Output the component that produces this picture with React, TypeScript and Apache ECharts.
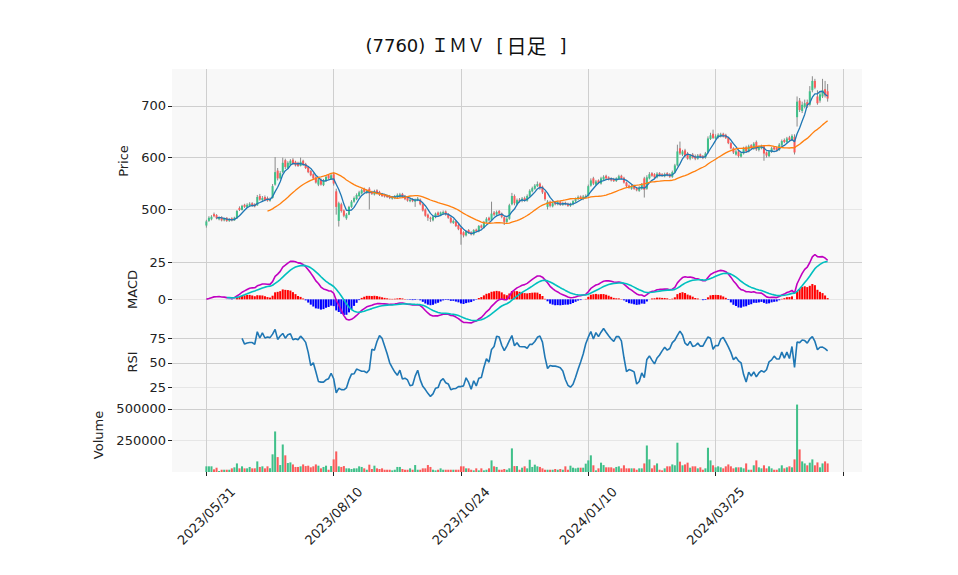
import React, { useEffect, useRef } from 'react';
import * as echarts from 'echarts';

const TITLE_MAIN = '(7760) ＩＭＶ  [';
const TITLE_KIND = '日足';
const TITLE_END = ']';
const HOLIDAYS = [
  '2023/07/17', '2023/08/11', '2023/09/18', '2023/10/09', '2023/11/03', '2023/11/23',
  '2024/01/01', '2024/01/02', '2024/01/03', '2024/01/08', '2024/02/12', '2024/02/23',
  '2024/03/20', '2024/04/29', '2024/05/03', '2024/05/06',
];
const TICK_LABELS = ['2023/05/31', '2023/08/10', '2023/10/24', '2024/01/10', '2024/03/25'];
const TICK_STEP = 50;

const OPEN = [
  469, 478, 481, 491, 489, 481, 485, 479, 484, 478,
  483, 479, 483, 503, 499, 509, 504, 507, 512, 510,
  508, 526, 518, 524, 522, 517, 522, 548, 575, 560,
  572, 595, 580, 586, 596, 592, 590, 584, 594, 588,
  582, 574, 568, 562, 548, 558, 547, 555, 566, 559,
  568, 535, 478, 510, 498, 483, 490, 505, 515, 520,
  526, 531, 540, 532, 540, 534, 529, 537, 534, 530,
  528, 527, 526, 521, 522, 524, 525, 530, 526, 522,
  516, 520, 515, 518, 519, 510, 500, 490, 484, 479,
  485, 494, 489, 492, 496, 491, 484, 474, 477, 470,
  464, 456, 450, 460, 456, 452, 461, 458, 469, 465,
  476, 484, 480, 494, 490, 497, 492, 485, 476, 482,
  510, 526, 510, 519, 517, 522, 517, 526, 535, 540,
  545, 550, 544, 533, 505, 515, 506, 513, 510, 515,
  509, 513, 511, 507, 510, 516, 520, 525, 520, 524,
  526, 546, 560, 548, 556, 550, 558, 565, 562, 560,
  559, 555, 559, 565, 561, 552, 546, 540, 546, 541,
  536, 540, 560, 540, 560, 570, 568, 562, 570, 568,
  564, 570, 568, 563, 572, 585, 618, 606, 614, 608,
  598, 606, 603, 598, 606, 603, 600, 610, 636, 646,
  637, 639, 641, 646, 644, 638, 628, 618, 606, 612,
  602, 608, 620, 612, 624, 617, 630, 615, 618, 622,
  610, 603, 611, 620, 619, 615, 624, 634, 630, 639,
  634, 640, 678, 710, 690, 698, 707, 702, 730, 748,
  718, 710, 718, 732, 728,
];
const CLOSE = [
  477, 484, 486, 487, 483, 484, 479, 482, 478, 481,
  479, 484, 497, 499, 507, 505, 509, 511, 507, 506,
  524, 519, 522, 518, 517, 520, 545, 572, 560, 570,
  590, 582, 590, 594, 588, 585, 584, 592, 586, 580,
  572, 566, 560, 552, 558, 548, 556, 563, 560, 566,
  550, 505, 512, 497, 488, 490, 505, 515, 522, 528,
  533, 537, 534, 536, 531, 530, 535, 531, 528, 526,
  525, 524, 522, 524, 526, 528, 529, 524, 520, 517,
  519, 516, 519, 521, 510, 498, 488, 484, 482, 486,
  492, 489, 494, 495, 490, 484, 475, 478, 468, 462,
  452, 450, 458, 455, 452, 460, 458, 468, 465, 476,
  482, 479, 492, 490, 495, 492, 486, 476, 482, 508,
  526, 512, 518, 516, 521, 518, 526, 536, 541, 546,
  549, 541, 533, 520, 515, 507, 512, 510, 514, 509,
  512, 510, 507, 510, 516, 520, 524, 521, 525, 526,
  545, 556, 550, 554, 551, 560, 563, 560, 558, 556,
  555, 560, 564, 560, 552, 545, 542, 545, 540, 537,
  542, 548, 538, 562, 568, 565, 562, 569, 566, 565,
  568, 566, 563, 572, 585, 612, 608, 612, 604, 598,
  604, 600, 598, 604, 601, 599, 608, 637, 643, 638,
  641, 644, 645, 641, 638, 628, 618, 610, 612, 603,
  608, 618, 612, 622, 618, 627, 616, 620, 622, 608,
  604, 612, 618, 616, 615, 625, 632, 630, 637, 634,
  642, 610, 708, 692, 702, 705, 700, 728, 748, 735,
  705, 722, 730, 720, 714,
];
const HIGH = [
  480, 487, 489, 494, 491, 486, 487, 484, 485, 483,
  485, 486, 499, 506, 509, 511, 512, 514, 514, 512,
  528, 530, 526, 527, 525, 523, 549, 601, 580, 574,
  600, 598, 593, 597, 599, 594, 592, 600, 596, 590,
  584, 576, 570, 564, 561, 560, 559, 566, 568, 569,
  572, 540, 515, 513, 500, 493, 507, 518, 525, 531,
  536, 540, 542, 539, 543, 536, 538, 539, 536, 532,
  530, 529, 528, 526, 528, 531, 532, 532, 528, 524,
  521, 522, 521, 524, 521, 512, 502, 492, 486, 488,
  494, 496, 496, 498, 498, 493, 486, 481, 479, 472,
  466, 458, 460, 462, 458, 462, 463, 470, 471, 478,
  485, 486, 515, 497, 498, 499, 494, 487, 485, 511,
  532, 529, 521, 522, 524, 525, 529, 539, 544, 549,
  554, 552, 546, 535, 518, 517, 515, 515, 517, 517,
  515, 515, 513, 513, 518, 523, 527, 527, 528, 529,
  548, 560, 563, 557, 558, 563, 566, 567, 564, 562,
  561, 562, 567, 567, 563, 554, 548, 548, 548, 543,
  545, 551, 563, 566, 572, 572, 570, 572, 572, 570,
  571, 572, 570, 575, 588, 625, 631, 615, 617, 611,
  607, 609, 606, 607, 608, 605, 611, 641, 648, 654,
  645, 647, 648, 648, 646, 640, 630, 620, 615, 614,
  611, 621, 623, 625, 626, 630, 633, 623, 625, 624,
  612, 614, 621, 622, 621, 628, 635, 637, 640, 642,
  645, 645, 718, 715, 708, 712, 712, 738, 757, 752,
  730, 728, 752, 748, 742,
];
const LOW = [
  465, 476, 479, 485, 481, 479, 477, 477, 476, 476,
  477, 478, 482, 497, 498, 503, 503, 506, 505, 504,
  507, 517, 516, 516, 515, 515, 521, 546, 556, 558,
  570, 578, 578, 584, 586, 583, 582, 583, 584, 578,
  570, 564, 558, 550, 545, 546, 545, 553, 558, 557,
  546, 490, 467, 494, 485, 480, 489, 503, 513, 518,
  524, 529, 532, 530, 500, 528, 527, 529, 526, 524,
  523, 522, 520, 519, 520, 522, 523, 522, 518, 515,
  514, 514, 505, 516, 508, 496, 486, 478, 476, 477,
  483, 487, 487, 490, 488, 482, 473, 472, 466, 460,
  432, 446, 448, 453, 450, 450, 456, 456, 463, 463,
  474, 477, 478, 487, 488, 490, 483, 470, 474, 480,
  508, 508, 508, 513, 514, 515, 515, 524, 533, 538,
  543, 538, 530, 517, 500, 504, 504, 508, 508, 507,
  507, 508, 505, 505, 508, 514, 518, 519, 518, 522,
  525, 544, 547, 546, 549, 548, 556, 558, 556, 554,
  553, 553, 557, 558, 550, 543, 540, 538, 538, 535,
  534, 538, 523, 538, 558, 563, 560, 560, 564, 563,
  562, 564, 561, 561, 570, 583, 605, 603, 601, 596,
  595, 598, 595, 596, 599, 597, 598, 608, 634, 636,
  635, 637, 639, 639, 636, 626, 616, 607, 604, 600,
  600, 606, 609, 610, 616, 615, 613, 612, 616, 594,
  600, 601, 609, 614, 612, 613, 622, 628, 628, 632,
  632, 606, 660, 688, 686, 695, 696, 700, 726, 732,
  702, 706, 715, 716, 708,
];
const VOLUME = [
  45000, 45000, 45000, 21000, 34000, 8000, 18000, 18000, 18000, 18000,
  29000, 37000, 68000, 29000, 45000, 29000, 29000, 40000, 29000, 29000,
  84000, 40000, 45000, 29000, 45000, 30000, 140000, 321000, 118000, 55000,
  218000, 132000, 71000, 76000, 60000, 40000, 40000, 45000, 60000, 47000,
  50000, 37000, 45000, 60000, 50000, 29000, 40000, 50000, 18000, 47000,
  100000, 163000, 45000, 40000, 47000, 29000, 29000, 24000, 29000, 29000,
  45000, 40000, 29000, 18000, 58000, 24000, 50000, 29000, 24000, 29000,
  18000, 18000, 18000, 13000, 18000, 40000, 40000, 24000, 18000, 18000,
  29000, 18000, 55000, 18000, 18000, 29000, 29000, 55000, 40000, 18000,
  13000, 18000, 29000, 18000, 18000, 18000, 18000, 18000, 18000, 18000,
  45000, 45000, 29000, 29000, 18000, 13000, 29000, 13000, 29000, 13000,
  18000, 29000, 92000, 45000, 40000, 18000, 18000, 24000, 18000, 29000,
  187000, 47000, 47000, 18000, 34000, 45000, 29000, 97000, 40000, 58000,
  45000, 40000, 29000, 18000, 18000, 18000, 18000, 24000, 18000, 24000,
  18000, 45000, 18000, 50000, 34000, 29000, 34000, 34000, 34000, 66000,
  92000, 132000, 53000, 13000, 29000, 74000, 55000, 37000, 37000, 37000,
  29000, 40000, 45000, 29000, 53000, 29000, 29000, 29000, 29000, 18000,
  29000, 29000, 68000, 210000, 100000, 29000, 53000, 68000, 18000, 13000,
  29000, 45000, 45000, 60000, 53000, 232000, 82000, 53000, 60000, 74000,
  34000, 45000, 45000, 29000, 37000, 18000, 29000, 192000, 92000, 53000,
  37000, 45000, 37000, 29000, 45000, 60000, 45000, 29000, 37000, 37000,
  37000, 29000, 68000, 18000, 18000, 53000, 92000, 37000, 29000, 53000,
  29000, 45000, 29000, 18000, 18000, 29000, 53000, 29000, 37000, 45000,
  37000, 100000, 534000, 179000, 84000, 68000, 53000, 74000, 100000, 53000,
  76000, 37000, 68000, 84000, 68000,
];

const PRICE_TICKS = [500, 600, 700];
const MACD_TICKS = [0, 25];
const RSI_TICKS = [25, 50, 75];
const VOLUME_TICKS = [250000, 500000];

const N = CLOSE.length;
const PAD_L = 13;
const PAD_R = 13;
const FONT = '"DejaVu Sans", "Noto Sans CJK JP", sans-serif';
const CJK_FONT = '"Noto Sans CJK JP", "DejaVu Sans", sans-serif';
const UP = '#40c08a';
const DOWN = '#fb5b5b';
const GRID_C = '#cfcfcf';
const EDGE_C = '#e6e6e6';
const TXT = '#222222';

function tradingDays(n: number): string[] {
  const out: string[] = [];
  const d = new Date(Date.UTC(2023, 4, 31));
  const p2 = (v: number) => (v < 10 ? '0' + v : '' + v);
  while (out.length < n) {
    const dow = d.getUTCDay();
    const s = `${d.getUTCFullYear()}/${p2(d.getUTCMonth() + 1)}/${p2(d.getUTCDate())}`;
    if (dow !== 0 && dow !== 6 && HOLIDAYS.indexOf(s) < 0) out.push(s);
    d.setUTCDate(d.getUTCDate() + 1);
  }
  return out;
}

function sma(arr: number[], n: number): (number | null)[] {
  return arr.map((_, i) => {
    if (i < n - 1) return null;
    let s = 0;
    for (let j = i - n + 1; j <= i; j++) s += arr[j];
    return s / n;
  });
}
function ema(arr: number[], n: number): number[] {
  const a = 2 / (n + 1);
  const out: number[] = [];
  arr.forEach((v, i) => out.push(i === 0 ? v : a * v + (1 - a) * out[i - 1]));
  return out;
}
function rsi(arr: number[], n: number): (number | null)[] {
  return arr.map((_, i) => {
    if (i < n) return null;
    let g = 0, l = 0;
    for (let j = i - n + 1; j <= i; j++) {
      const d = arr[j] - arr[j - 1];
      if (d > 0) g += d; else l -= d;
    }
    if (l === 0) return 100;
    return 100 - 100 / (1 + g / l);
  });
}

export default function App() {
  const ref = useRef<HTMLDivElement>(null);
  useEffect(() => {
    if (!ref.current) return;
    const chart = echarts.init(ref.current, undefined, { renderer: 'svg' });

    const dates = tradingDays(N);
    const total = PAD_L + N + PAD_R;
    const cats: string[] = [];
    for (let k = 0; k < total; k++) {
      const i = k - PAD_L;
      cats.push(i >= 0 && i < N ? dates[i] : '');
    }
    const pad = (arr: (number | null)[]) => {
      const out: any[] = [];
      for (let k = 0; k < total; k++) {
        const i = k - PAD_L;
        const v = i >= 0 && i < N ? arr[i] : null;
        out.push(v == null ? '-' : v);
      }
      return out;
    };

    const ma5 = sma(CLOSE, 5);
    const ma25 = sma(CLOSE, 25);
    const e12 = ema(CLOSE, 12);
    const e26 = ema(CLOSE, 26);
    const macd = CLOSE.map((_, i) => e12[i] - e26[i]);
    const sigFull = ema(macd, 9);
    const signal = sigFull.map((v, i) => (i < 8 ? null : v));
    const hist = macd.map((v, i) => (i < 8 ? null : v - sigFull[i]));
    const rsi14 = rsi(CLOSE, 14);

    const candleData = CLOSE.map((c, i) => [i + PAD_L, OPEN[i], c, LOW[i], HIGH[i]]);
    const volData = pad(VOLUME).map((v, k) => {
      const i = k - PAD_L;
      if (v === '-') return '-';
      return { value: v, itemStyle: { color: CLOSE[i] >= OPEN[i] ? UP : DOWN } };
    });
    const histData = pad(hist).map((v) => (v === '-' ? '-' : { value: v, itemStyle: { color: v >= 0 ? '#ff0000' : '#0000ff' } }));

    const tickFn = (idx: number) => idx - PAD_L >= 0 && (idx - PAD_L) % TICK_STEP === 0;
    const labelFn = (idx: number) => {
      const i = idx - PAD_L;
      return i >= 0 && i % TICK_STEP === 0 && i / TICK_STEP < TICK_LABELS.length;
    };

    const gridDefs = [
      { top: 69, height: 184 },
      { top: 253, height: 73 },
      { top: 326, height: 72 },
      { top: 398, height: 74 },
    ];
    const grid = gridDefs.map((g) => ({
      left: 172, width: 690, top: g.top, height: g.height,
      show: true, backgroundColor: '#f8f8f8', borderWidth: 0,
    }));

    const xAxis = gridDefs.map((_, g) => ({
      type: 'category', gridIndex: g, data: cats, boundaryGap: true,
      axisLine: { show: false },
      axisTick: { show: g === 3, alignWithLabel: true, interval: tickFn, length: 4, lineStyle: { color: TXT } },
      axisLabel: {
        show: g === 3, interval: labelFn, rotate: 45, align: 'center', verticalAlign: 'middle', margin: 44,
        fontSize: 13, color: TXT, fontFamily: FONT,
      },
      splitLine: { show: true, interval: tickFn, alignWithLabel: true, lineStyle: { color: GRID_C, width: 1 } },
    }));

    const yAx = (g: number, min: number, max: number, step: number, ticks: number[], name: string, nameGap: number) => ({
      type: 'value', gridIndex: g, min, max, minInterval: step, maxInterval: step,
      name, nameLocation: 'middle', nameGap,
      nameTextStyle: { fontSize: 13, color: TXT, fontFamily: FONT },
      axisLine: { show: false },
      axisTick: { show: true, length: 4, lineStyle: { color: TXT }, customValues: ticks },
      axisLabel: {
        fontSize: 13, color: TXT, fontFamily: FONT, margin: 6, customValues: ticks,
        formatter: (v: number) => (ticks.indexOf(v) >= 0 ? String(v) : ''),
      },
      splitLine: { show: true, lineStyle: { color: [EDGE_C, ...ticks.map(() => GRID_C), EDGE_C], width: 1 } },
    });

    const yAxis = [
      yAx(0, 416, 771, 100, PRICE_TICKS, 'Price', 40),
      yAx(1, -18, 31.3, 25, MACD_TICKS, 'MACD', 31),
      yAx(2, 14, 87.6, 25, RSI_TICKS, 'RSI', 31),
      yAx(3, 0, 586000, 250000, VOLUME_TICKS, 'Volume', 66),
    ];

    const line = (name: string, data: any[], color: string, width: number, g: number) => ({
      name, type: 'line', data, xAxisIndex: g, yAxisIndex: g, showSymbol: false, symbol: 'none',
      lineStyle: { color, width }, connectNulls: false, z: 3,
    });

    const option: any = {
      animation: false,
      backgroundColor: '#ffffff',
      textStyle: { fontFamily: FONT },
      grid, xAxis, yAxis,
      graphic: [{
        type: 'text', x: 466, y: 45,
        style: {
          text: `{a|${TITLE_MAIN}}{b|${TITLE_KIND}}{c|${TITLE_END}}`,
          textAlign: 'center', textVerticalAlign: 'middle',
          rich: {
            a: { fontSize: 18, fontFamily: FONT, fill: '#111', color: '#111', verticalAlign: 'middle' },
            b: { fontSize: 20, fontFamily: CJK_FONT, fill: '#111', color: '#111', verticalAlign: 'middle', padding: [0, 0, 0, 3] },
            c: { fontSize: 18, fontFamily: FONT, fill: '#111', color: '#111', verticalAlign: 'middle', padding: [0, 0, 0, 13] },
          },
        },
      }],
      series: [
        {
          type: 'custom', name: 'candle', xAxisIndex: 0, yAxisIndex: 0, data: candleData, clip: true,
          encode: { x: 0, y: [1, 2, 3, 4] },
          renderItem: (params: any, api: any) => {
            const k = api.value(0);
            const o = api.value(1), c = api.value(2), l = api.value(3), h = api.value(4);
            const pO = api.coord([k, o]);
            const pC = api.coord([k, c]);
            const pL = api.coord([k, l]);
            const pH = api.coord([k, h]);
            const bw = api.size([1, 0])[0] * 0.8;
            const top = Math.min(pO[1], pC[1]);
            const hh = Math.max(Math.abs(pO[1] - pC[1]), 0.8);
            return {
              type: 'group',
              children: [
                { type: 'line', shape: { x1: pL[0], y1: pL[1], x2: pH[0], y2: pH[1] }, style: { stroke: '#8a8a8a', lineWidth: 1 } },
                { type: 'rect', shape: { x: pO[0] - bw / 2, y: top, width: bw, height: hh }, style: { fill: c >= o ? UP : DOWN } },
              ],
            };
          },
        },
        line('MA5', pad(ma5), '#1f77b4', 1.3, 0),
        line('MA25', pad(ma25), '#ff7f0e', 1.3, 0),
        { type: 'bar', name: 'hist', xAxisIndex: 1, yAxisIndex: 1, data: histData, barWidth: '80%' },
        line('MACD', pad(macd), '#c000c0', 1.6, 1),
        line('Signal', pad(signal), '#00bfbf', 1.6, 1),
        line('RSI', pad(rsi14), '#1f77b4', 1.6, 2),
        { type: 'bar', name: 'Volume', xAxisIndex: 3, yAxisIndex: 3, data: volData, barWidth: '80%' },
      ],
    };
    chart.setOption(option);
    return () => chart.dispose();
  }, []);
  return <div ref={ref} style={{ position: 'fixed', left: 0, top: 0, width: 958, height: 575 }} />;
}
